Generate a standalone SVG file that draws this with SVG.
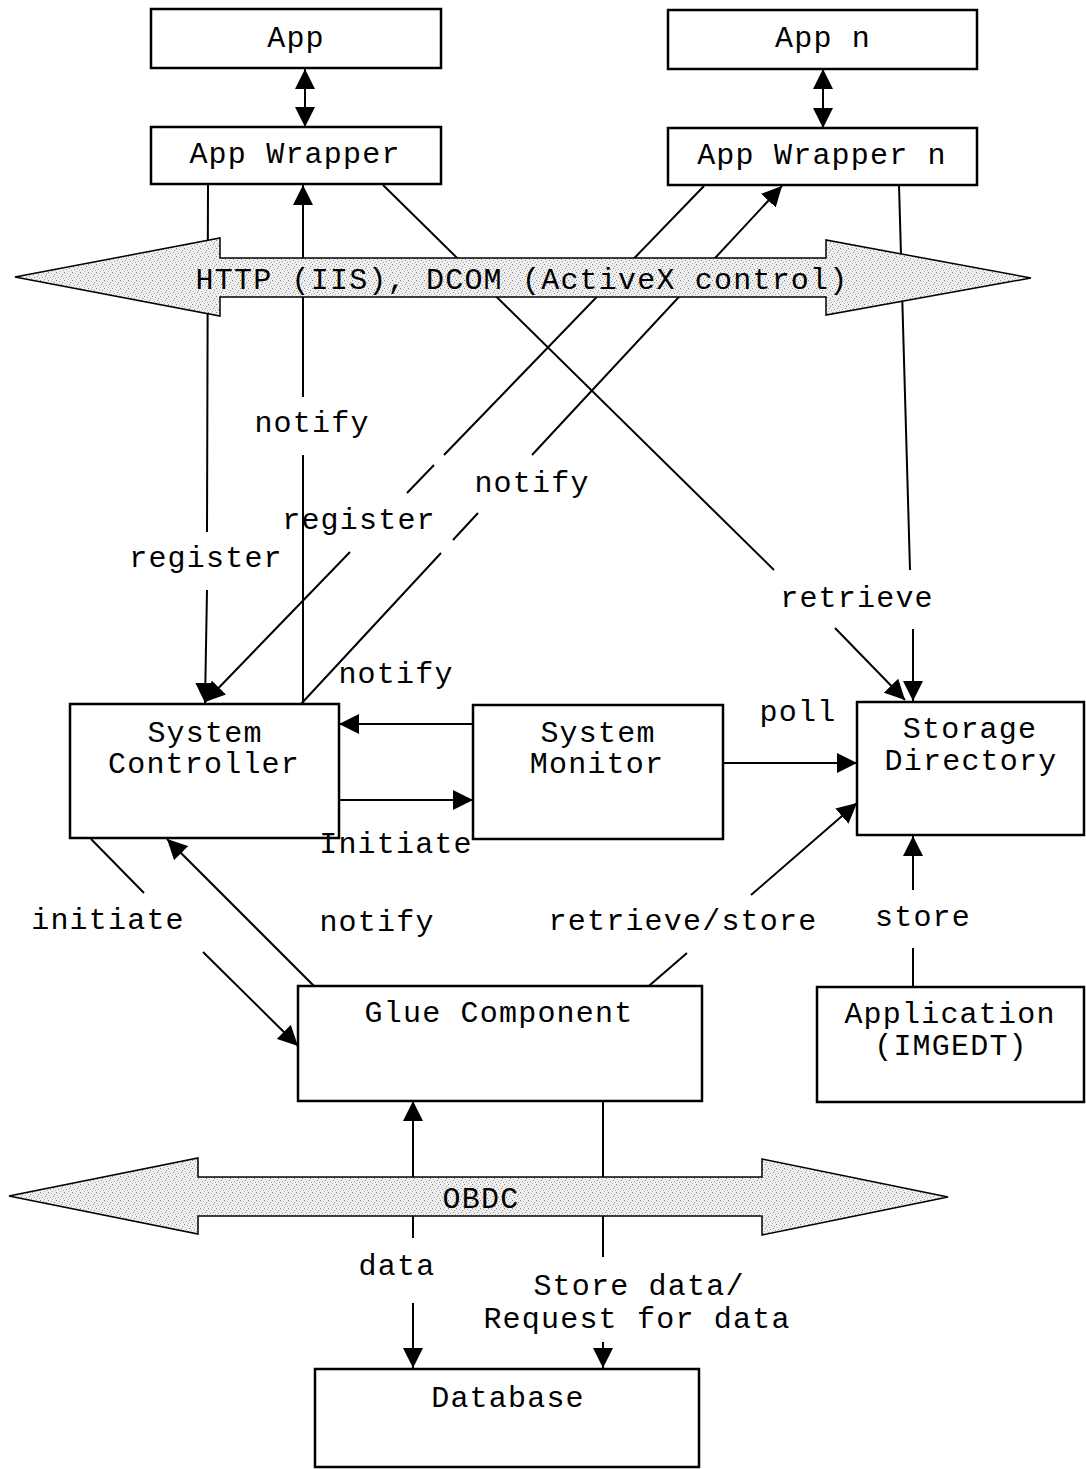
<svg xmlns="http://www.w3.org/2000/svg" width="1086" height="1469" viewBox="0 0 1086 1469">
  <style>
    .box { fill: #ffffff; stroke: #000000; stroke-width: 2.5; }
    .lbl { font-family: "Liberation Mono", "DejaVu Sans Mono", monospace; font-size: 30px; letter-spacing: 1.2px; fill: #000000; text-anchor: middle; }
    .conn { fill: none; stroke: #000000; stroke-width: 2; }
    .arr { marker-end: url(#head); }
    .both { marker-start: url(#head); marker-end: url(#head); }
    .band { fill: url(#stipple); stroke: #000000; stroke-width: 1.5; }
  </style>
  <defs>
    <marker id="head" markerUnits="userSpaceOnUse" markerWidth="20" markerHeight="20" refX="20" refY="10" orient="auto-start-reverse">
      <path d="M0,0 L20,10 L0,20 z" fill="#000000"/>
    </marker>
    <!-- speckled grey fill for the two bus arrows -->
    <pattern id="stipple" patternUnits="userSpaceOnUse" width="8" height="8">
      <rect width="8" height="8" fill="#efefef"/>
      <rect x="0" y="0" width="1" height="1" fill="#808080"/>
      <rect x="3" y="1" width="1" height="1" fill="#a8a8a8"/>
      <rect x="6" y="2" width="1" height="1" fill="#8a8a8a"/>
      <rect x="1" y="3" width="1" height="1" fill="#b5b5b5"/>
      <rect x="5" y="4" width="1" height="1" fill="#8a8a8a"/>
      <rect x="2" y="5" width="1" height="1" fill="#9a9a9a"/>
      <rect x="7" y="6" width="1" height="1" fill="#a8a8a8"/>
      <rect x="4" y="7" width="1" height="1" fill="#b5b5b5"/>
    </pattern>
  </defs>

  <rect width="1086" height="1469" fill="#ffffff"/>

  <!-- connectors (drawn under the bus arrows, which hide the crossing parts) -->
  <g id="connectors">
    <path class="conn both" d="M305,69 L305,127"/>
    <path class="conn both" d="M823,69 L823,128"/>
    <!-- register (App Wrapper -> System Controller) -->
    <path class="conn arr" d="M208,184 L207,532 M207,590 L205,703"/>
    <!-- notify (System Controller -> App Wrapper) -->
    <path class="conn arr" d="M303,704 L303,455 M303,397 L303,185"/>
    <!-- register (App Wrapper n -> System Controller) -->
    <path class="conn arr" d="M704,186 L444,455 M434,465 L407,493 M350,552 L205,702"/>
    <!-- notify (System Controller -> App Wrapper n) -->
    <path class="conn arr" d="M301,704 L441,553 M453,540 L478,513 M532,455 L782,186"/>
    <!-- retrieve (App Wrapper -> Storage Directory) -->
    <path class="conn arr" d="M383,185 L774,570 M835,628 L905,700"/>
    <!-- retrieve (App Wrapper n -> Storage Directory) -->
    <path class="conn arr" d="M899,185 L910,570 M913,629 L913,701"/>
    <!-- System Monitor -> System Controller -->
    <path class="conn arr" d="M473,724 L339,724"/>
    <!-- initiate: System Controller -> System Monitor -->
    <path class="conn arr" d="M339,800 L473,800"/>
    <!-- poll -->
    <path class="conn arr" d="M723,763 L857,763"/>
    <!-- retrieve/store -->
    <path class="conn arr" d="M643,991 L687,953 M751,895 L857,803"/>
    <!-- store -->
    <path class="conn arr" d="M913,987 L913,948 M913,890 L913,836"/>
    <!-- initiate: System Controller -> Glue Component -->
    <path class="conn arr" d="M91,839 L144,893 M203,952 L298,1046"/>
    <!-- notify: Glue Component -> System Controller -->
    <path class="conn arr" d="M318,990 L167,839"/>
    <!-- data -->
    <path class="conn arr" d="M413,1238 L413,1101"/>
    <path class="conn arr" d="M413,1303 L413,1368"/>
    <!-- store data / request for data -->
    <path class="conn arr" d="M603,1101 L603,1257 M603,1342 L603,1368"/>
  </g>

  <!-- HTTP / DCOM bus -->
  <g id="bus-http">
    <polygon class="band" points="15,277 220,238 220,258 826,258 826,240 1031,278 826,315 826,297 220,297 220,316"/>
    <text class="lbl" x="522" y="289">HTTP (IIS), DCOM (ActiveX control)</text>
  </g>

  <!-- ODBC bus -->
  <g id="bus-obdc">
    <polygon class="band" points="9,1196 198,1158 198,1177 762,1177 762,1159 948,1197 762,1235 762,1216 198,1216 198,1234"/>
    <text class="lbl" x="481" y="1208">OBDC</text>
  </g>

  <g id="app">
    <rect class="box" x="151" y="9" width="290" height="59"/>
    <text class="lbl" x="296" y="47">App</text>
  </g>
  <g id="app-wrapper">
    <rect class="box" x="151" y="127" width="290" height="57"/>
    <text class="lbl" x="295" y="163">App Wrapper</text>
  </g>
  <g id="app-n">
    <rect class="box" x="668" y="10" width="309" height="59"/>
    <text class="lbl" x="823" y="47">App n</text>
  </g>
  <g id="app-wrapper-n">
    <rect class="box" x="668" y="128" width="309" height="57"/>
    <text class="lbl" x="822" y="164">App Wrapper n</text>
  </g>
  <g id="system-controller">
    <rect class="box" x="70" y="704" width="269" height="134"/>
    <text class="lbl" x="205" y="742">System</text>
    <text class="lbl" x="204" y="773">Controller</text>
  </g>
  <g id="system-monitor">
    <rect class="box" x="473" y="705" width="250" height="134"/>
    <text class="lbl" x="598" y="742">System</text>
    <text class="lbl" x="597" y="773">Monitor</text>
  </g>
  <g id="storage-directory">
    <rect class="box" x="857" y="702" width="227" height="133"/>
    <text class="lbl" x="970" y="738">Storage</text>
    <text class="lbl" x="971" y="770">Directory</text>
  </g>
  <g id="glue-component">
    <rect class="box" x="298" y="986" width="404" height="115"/>
    <text class="lbl" x="499" y="1022">Glue Component</text>
  </g>
  <g id="application-imgedt">
    <rect class="box" x="817" y="987" width="267" height="115"/>
    <text class="lbl" x="950" y="1023">Application</text>
    <text class="lbl" x="951" y="1055">(IMGEDT)</text>
  </g>
  <g id="database">
    <rect class="box" x="315" y="1369" width="384" height="98"/>
    <text class="lbl" x="508" y="1407">Database</text>
  </g>

  <!-- connector labels -->
  <g id="labels">
    <text class="lbl" x="312" y="432">notify</text>
    <text class="lbl" x="532" y="492">notify</text>
    <text class="lbl" x="359" y="529">register</text>
    <text class="lbl" x="206" y="567">register</text>
    <text class="lbl" x="857" y="607">retrieve</text>
    <text class="lbl" x="396" y="683">notify</text>
    <text class="lbl" x="798" y="721">poll</text>
    <text class="lbl" x="396" y="853">Initiate</text>
    <text class="lbl" x="108" y="929">initiate</text>
    <text class="lbl" x="377" y="931">notify</text>
    <text class="lbl" x="683" y="930">retrieve/store</text>
    <text class="lbl" x="923" y="926">store</text>
    <text class="lbl" x="397" y="1275">data</text>
    <text class="lbl" x="639" y="1295">Store data/</text>
    <text class="lbl" x="637" y="1328">Request for data</text>
  </g>
</svg>
